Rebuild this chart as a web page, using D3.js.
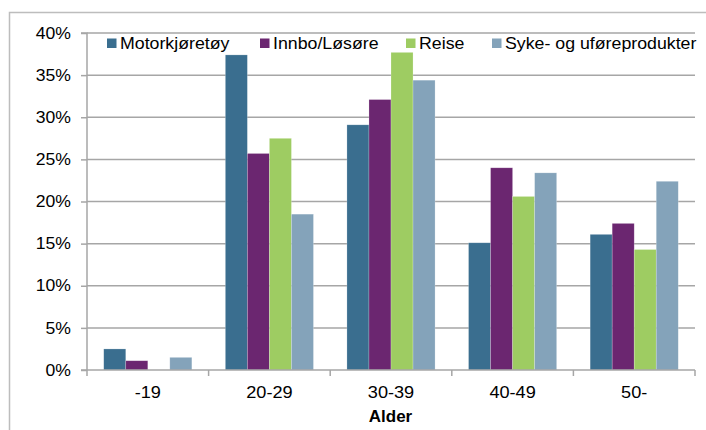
<!DOCTYPE html>
<html><head><meta charset="utf-8">
<script src="https://cdn.jsdelivr.net/npm/d3@7"></script>
<style>
body{margin:0;background:#fff;}
text{font-family:Arial,"Liberation Sans",Helvetica,sans-serif;fill:#000;}
</style></head>
<body><svg id="c" width="706" height="430"></svg>
<script>
const categories = ["-19","20-29","30-39","40-49","50-"];
const seriesNames = ["Motorkjøretøy","Innbo/Løsøre","Reise","Syke- og uføreprodukter"];
const motorkjoretoy = [0.025,0.374,0.291,0.151,0.161];
const innbo = [0.011,0.257,0.321,0.240,0.174];
const reise = [0.000,0.275,0.377,0.206,0.143];
const syke = [0.015,0.185,0.344,0.234,0.224];
const yTicks = [0,0.05,0.10,0.15,0.20,0.25,0.30,0.35,0.40];
const xTitle = "Alder";
const colors = ["#3a6e8f","#6b2670","#9ecc62","#84a3ba"];

const values = [motorkjoretoy, innbo, reise, syke];
const svg = d3.select("#c");
const L = 87, R = 695, T = 33, B = 370;

// outer frame
svg.append("path").attr("d","M9.5,440V12.5H720").attr("fill","none").attr("stroke","#bdbdbd").attr("stroke-width",1.5);

const x = d3.scaleBand().domain(categories).range([L,R]).padding(0);
const xi = d3.scaleBand().domain(seriesNames).range([0,x.bandwidth()]).paddingInner(0).paddingOuter(0.76);
const y = d3.scaleLinear().domain([0,0.4]).range([B,T]);

// gridlines
svg.append("g").selectAll("line").data(yTicks.filter(d=>d>0)).join("line")
  .attr("x1",L).attr("x2",R).attr("y1",d=>y(d)).attr("y2",d=>y(d))
  .attr("stroke","#a6a6a6").attr("stroke-width",1.5);

// bars
const g = svg.append("g");
categories.forEach((c,ci)=>{
  seriesNames.forEach((s,si)=>{
    const v = values[si][ci];
    if(v<=0) return;
    g.append("rect").attr("x",x(c)+xi(s)).attr("width",xi.bandwidth())
      .attr("y",y(v)).attr("height",y(0)-y(v)).attr("fill",colors[si])
      .attr("stroke","rgba(255,255,255,0.35)").attr("stroke-width",0.6);
  });
});

// y axis
const ya = svg.append("g").attr("transform",`translate(${L},0)`)
  .call(d3.axisLeft(y).tickValues(yTicks).tickSize(6).tickPadding(0).tickFormat(d3.format(".0%")));
ya.select(".domain").attr("stroke","#a6a6a6").attr("stroke-width",1.5).attr("d",`M-6,${T}H0V${B}`);
ya.selectAll(".tick line").attr("stroke","#a6a6a6").attr("stroke-width",1.5);
ya.selectAll(".tick text").attr("x",null).attr("dy",null).attr("font-size",16).attr("text-anchor","end")
  .attr("dominant-baseline","central")
  .attr("transform","translate(-16,0) scale(1.1,1)");

// x axis
const xa = svg.append("g").attr("transform",`translate(0,${B})`);
xa.append("line").attr("x1",L-6).attr("x2",R).attr("y1",0).attr("y2",0).attr("stroke","#a6a6a6").attr("stroke-width",1.5);
const bounds = categories.map(c=>x(c)).concat([x(categories[categories.length-1])+x.bandwidth()]);
xa.selectAll("line.t").data(bounds).join("line").attr("class","t")
  .attr("x1",d=>d).attr("x2",d=>d).attr("y1",0).attr("y2",6).attr("stroke","#a6a6a6").attr("stroke-width",1.5);
xa.selectAll("text").data(categories).join("text")
  .attr("transform",d=>`translate(${x(d)+x.bandwidth()/2},28) scale(1.1,1)`)
  .attr("text-anchor","middle").attr("font-size",16.5).text(d=>d);

svg.append("text").attr("transform",`translate(${(L+R)/2-0.5},422) scale(1.03,1)`).attr("text-anchor","middle")
  .attr("font-size",16.5).attr("font-weight","bold").text(xTitle);

// legend
const legX = [107,260,406,492];
const lg = svg.append("g");
seriesNames.forEach((s,i)=>{
  lg.append("rect").attr("x",legX[i]).attr("y",38.5).attr("width",9.5).attr("height",9.5).attr("fill",colors[i]);
  lg.append("text").attr("transform",`translate(${legX[i]+13},48.5) scale(1.11,1)`).attr("font-size",16).text(s);
});
</script></body></html>
